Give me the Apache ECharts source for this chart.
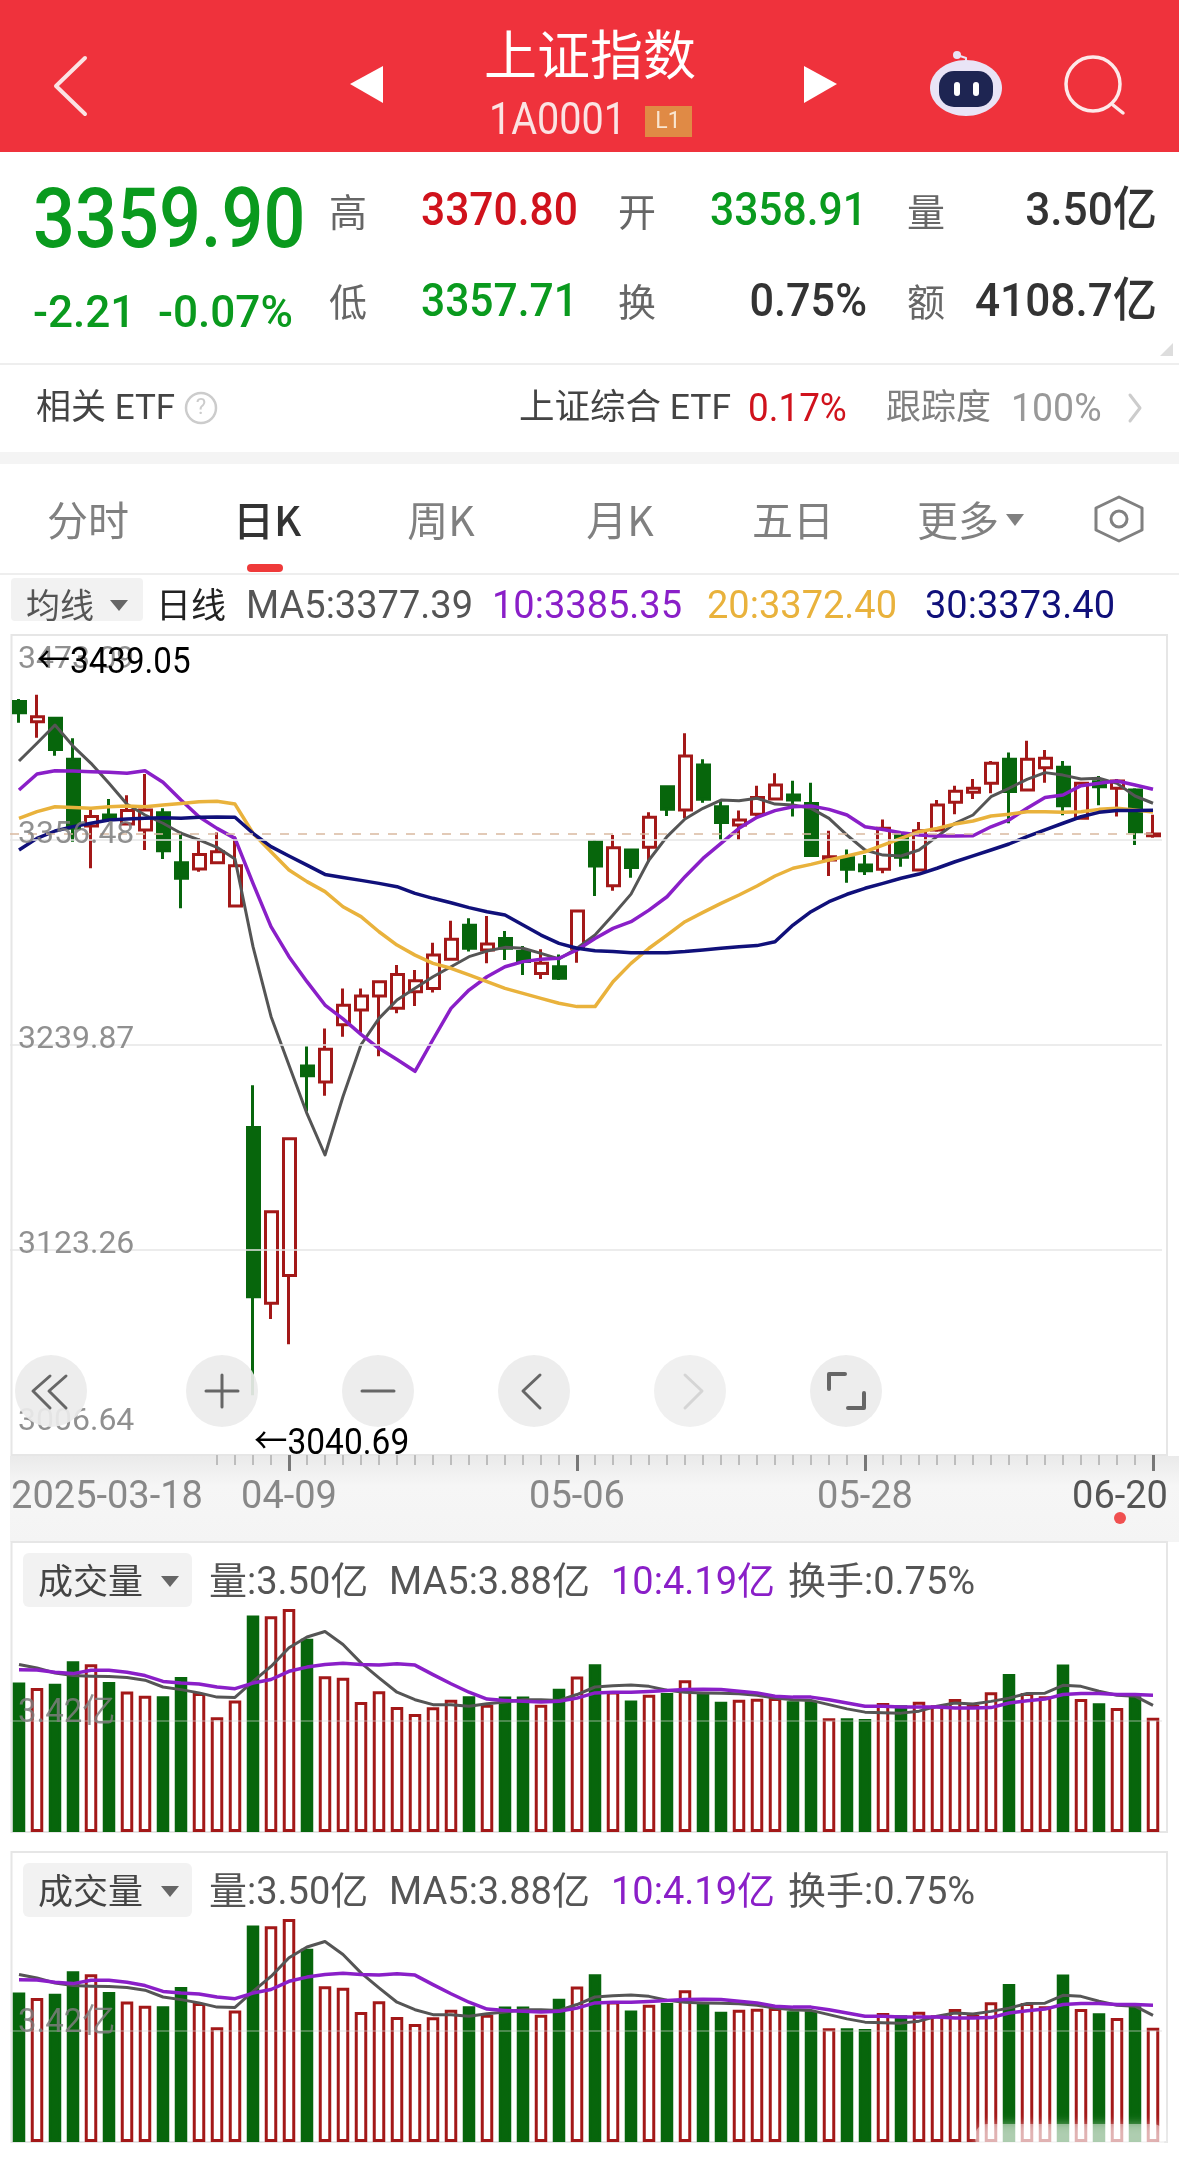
<!DOCTYPE html>
<html>
<head>
<meta charset="utf-8">
<title>上证指数</title>
<script src="https://cdn.jsdelivr.net/npm/echarts@6/dist/echarts.min.js"></script>
<style>html,body{margin:0;padding:0;background:#fff}#main{width:1179px;height:2168px}</style>
</head>
<body>
<div id="main"></div>
<script>
var dates = ['2025-03-18','2025-03-19','2025-03-20','2025-03-21','2025-03-24','2025-03-25','2025-03-26','2025-03-27','2025-03-28','2025-03-31',
  '2025-04-01','2025-04-02','2025-04-03','2025-04-07','2025-04-08','2025-04-09','2025-04-10','2025-04-11','2025-04-14','2025-04-15',
  '2025-04-16','2025-04-17','2025-04-18','2025-04-21','2025-04-22','2025-04-23','2025-04-24','2025-04-25','2025-04-28','2025-04-29',
  '2025-04-30','2025-05-06','2025-05-07','2025-05-08','2025-05-09','2025-05-12','2025-05-13','2025-05-14','2025-05-15','2025-05-16',
  '2025-05-19','2025-05-20','2025-05-21','2025-05-22','2025-05-23','2025-05-26','2025-05-27','2025-05-28','2025-05-29','2025-05-30',
  '2025-06-03','2025-06-04','2025-06-05','2025-06-06','2025-06-09','2025-06-10','2025-06-11','2025-06-12','2025-06-13','2025-06-16',
  '2025-06-17','2025-06-18','2025-06-19','2025-06-20'];

var opens = [3435.2,3423.8,3425.7,3402.4,3364.4,3370.7,3365.6,3362.2,3372,3343.6,
  3340,3343.6,3318.9,3193,3093,3108.8,3227.9,3218.8,3251.4,3259.8,
  3267.7,3260.7,3270.2,3272,3288.6,3308,3293.9,3300.5,3293,3280.6,
  3284.4,3294.9,3355.5,3330.5,3350.8,3352.3,3386.8,3373.5,3399.1,3375.4,
  3365,3371.1,3379.8,3382.1,3377.3,3345.1,3346.4,3342.2,3339.8,3359.3,
  3339.4,3362.2,3377.9,3383.6,3388.7,3402.4,3384.9,3397.6,3397.8,3368.8,
  3389.6,3385.9,3384.9,3358.91];
var closes = [3428.9,3426.6,3408,3363.1,3369.8,3368.4,3373.2,3373.5,3350.4,3334.7,
  3348.3,3349.8,3341.9,3096.6,3145,3186.5,3222.4,3237.5,3262.5,3267.7,
  3275.9,3280,3276.4,3291,3300,3294.9,3297.3,3294.9,3287.3,3286.3,
  3277.8,3316.1,3341.7,3352.1,3340.9,3369.4,3373.9,3404.3,3379.6,3366.5,
  3367.9,3380.6,3387.8,3379.2,3347.6,3347,3339.8,3339,3363.1,3346.6,
  3361.8,3376.4,3384.2,3385.9,3400.1,3384,3402.4,3403,3376,3388.7,
  3386.8,3390,3361.2,3359.9];
var lows = [3423.2,3414.7,3404.4,3355.5,3340.4,3367.8,3365,3350.8,3345.7,3317.6,
  3338.4,3342.8,3318.5,3040.69,3084,3069.6,3202,3211,3244.5,3246.9,
  3233.5,3257.9,3262,3269.8,3288,3293,3286.3,3288.2,3279.7,3277.4,
  3276.9,3286.7,3324.6,3327.6,3335,3344.1,3370.1,3368.8,3377.7,3356.5,
  3356.5,3369.8,3379.6,3369.8,3347.4,3336,3332.2,3336.6,3337.5,3341.3,
  3339.2,3361.2,3371.1,3379.8,3383,3366,3384.5,3389.1,3370.5,3368.4,
  3376.2,3369.8,3353.6,3357.71];
var highs = [3436.7,3439.05,3426.6,3414.3,3373.5,3379.8,3382,3394,3374.5,3361.2,
  3357.4,3360.8,3358.4,3217,3145.5,3186.8,3239,3249.2,3272,3272,
  3276,3285.4,3282.5,3298,3310.6,3311.9,3313.2,3304.7,3296.2,3294.3,
  3291.4,3316.3,3356.5,3359.3,3351,3372.2,3387,3417.2,3402.4,3379.2,
  3373.2,3387.4,3394.4,3390.2,3389,3361.8,3351.1,3348,3368.2,3359.5,
  3366.7,3379.2,3387.4,3391.2,3401.4,3406.2,3413,3407.7,3401.4,3389,
  3392.9,3391.2,3385.9,3370.8];

var ma5 = [3401.4,3411.5,3421.9,3409.9,3400.1,3388.7,3376.8,3370.7,3366,3360.3,
  3356.5,3352.3,3345.7,3295.8,3256.1,3228.3,3200.8,3177.3,3210.6,3240,
  3255,3265.5,3272.1,3278.7,3284.4,3290.1,3293.3,3295.4,3294.9,3292,
  3288.8,3294.9,3302.4,3313.8,3325.7,3345.1,3358.4,3368.4,3374.5,3379.2,
  3378.8,3380.2,3376.9,3376.4,3374.5,3368.8,3359.3,3350.8,3347.9,3347.4,
  3350.8,3358.4,3366,3370.7,3381.1,3385.9,3391,3394.8,3393.4,3391.2,
  3391.6,3388.7,3381.5,3377.39];
var ma10 = [3384.9,3394,3395.9,3395.7,3395.3,3395,3394.4,3395.9,3389.3,3379.2,
  3369.7,3363.1,3357.4,3331.8,3307.2,3290.1,3275.9,3262.6,3254.7,3245.9,
  3238,3231.6,3224.9,3243,3260.7,3271.1,3278.7,3284.4,3287.3,3288.6,
  3289.2,3293.9,3300.5,3306.2,3310,3316.6,3324.2,3335.6,3346,3354.6,
  3363.1,3369.4,3373.2,3375.4,3375.8,3373.9,3370.7,3364,3362.5,3360.6,
  3359.3,3358.8,3358.8,3358.9,3364,3367.9,3374.5,3380.6,3382.1,3387.4,
  3388.7,3390,3387.8,3385.35];
var ma20 = [3368.8,3372.6,3375.4,3374.9,3374.5,3375.4,3375.8,3375.4,3376.4,3377.3,
  3378.3,3378.5,3376.9,3360.3,3349.8,3339.4,3332.8,3327.1,3318.5,3312.9,
  3304.3,3296.7,3291,3286.3,3283.5,3279.7,3275.9,3272.1,3269.2,3266.4,
  3263.6,3261.7,3261.7,3275.9,3286.3,3294.9,3302.4,3310,3315.3,3320.4,
  3325.2,3330.3,3336,3340.4,3342.6,3345.1,3347.4,3349.8,3353.6,3357.4,
  3361.2,3363.1,3365.6,3367.3,3370.1,3371.1,3372.6,3372.6,3372.2,3372.6,
  3373.9,3374.5,3373.5,3372.4];
var ma30 = [3350.8,3357.4,3361.6,3364.1,3366,3367.8,3368.4,3368.8,3369.2,3368.8,
  3369.4,3369.6,3369.4,3360.3,3352.7,3347.4,3342.2,3336.9,3335.2,3333.5,
  3331.8,3329.9,3326.1,3323.3,3320.8,3318,3315.7,3313.8,3308.1,3302.4,
  3297.7,3294.9,3293.5,3293.1,3292.4,3292.4,3292.4,3293,3293.9,3294.9,
  3295.8,3296.4,3298.6,3308.1,3315.7,3321.4,3325.6,3329,3331.8,3334.7,
  3337.1,3340.4,3344.1,3347.4,3350.8,3354.2,3358.4,3362.2,3366,3369.7,
  3372.2,3373.2,3373.2,3373.4];

var volumes = [4.58,4.41,4.54,5.23,5.14,4.59,4.30,4.17,4.16,4.75,
  4.26,3.51,4.03,6.63,6.61,6.83,5.92,4.77,4.72,3.98,
  4.31,3.83,3.61,3.82,4.05,4.16,3.90,4.15,4.15,3.90,
  4.39,4.76,5.14,4.30,4.03,4.20,4.26,4.65,4.26,3.99,
  4.05,4.08,4.10,4.00,4.00,3.48,3.48,3.46,3.95,3.88,
  3.99,3.88,4.07,3.90,4.28,4.84,4.26,4.16,5.13,4.07,
  3.94,3.80,4.16,3.50];
var volMa5 = [5.13,5.02,4.87,4.79,4.77,4.76,4.73,4.65,4.44,4.36,
  4.26,4.13,4.12,4.61,5.07,5.64,5.97,6.14,5.74,5.18,
  4.72,4.28,4.05,3.90,3.90,3.85,3.93,3.98,4.05,4.05,
  4.03,4.21,4.44,4.48,4.50,4.46,4.34,4.28,4.26,4.25,
  4.23,4.19,4.10,4.05,4.03,3.90,3.77,3.67,3.65,3.64,
  3.70,3.85,3.95,3.92,4.00,4.10,4.24,4.25,4.49,4.46,
  4.31,4.19,4.16,3.88];
var volMa10 = [4.97,4.96,4.89,4.85,4.95,4.95,4.89,4.79,4.61,4.56,
  4.53,4.44,4.39,4.56,4.67,4.92,5.05,5.13,5.17,5.13,
  5.11,5.15,5.11,4.82,4.54,4.28,4.07,4.03,4.00,3.98,
  4.00,4.10,4.26,4.28,4.28,4.30,4.33,4.36,4.37,4.36,
  4.31,4.26,4.16,4.13,4.13,4.05,3.95,3.85,3.85,3.83,
  3.83,3.83,3.80,3.80,3.81,3.95,4.02,4.07,4.21,4.24,
  4.24,4.21,4.21,4.19];

var priceTicks = [3006.64,3123.26,3239.87,3356.48,3473.09];
var volTicks = [3.42];
var xTickIndex = [0,15,31,47,63];
var xTickLabels = ['2025-03-18','04-09','05-06','05-28','06-20'];
var lastClose = 3359.90;

var FONT = 'Roboto, "Noto Sans CJK SC", sans-serif';
var CJK = '"Noto Sans CJK SC", sans-serif';
var RED = '#A31818', GREEN = '#07660C';
var UP = '#D0121C', DOWN = '#0A9A1E', TXT = '#333', GRAY = '#666', GRAY2 = '#808080';
var C5 = '#555555', C10 = '#8A1FC8', C20 = '#E9B23C', C30 = '#10107A';

var candleData = dates.map(function (d, i) { return [opens[i], closes[i], lows[i], highs[i]]; });
var volData = volumes.map(function (v, i) {
  var up = closes[i] >= opens[i];
  return { value: v, itemStyle: { color: up ? '#fff' : GREEN, borderColor: up ? RED : GREEN } };
});

// sx: 横向压缩，原图数字是窄体
function t(x, y, text, size, color, align, weight, font, sx) {
  return { type: 'text', z: 50, silent: true, x: x, y: y, scaleX: sx || 1, style: {
    x: 0, y: 0, text: text, fontSize: size, fill: color, align: align || 'left', verticalAlign: 'middle',
    fontWeight: weight || 'normal', fontFamily: font || FONT } };
}
function box(x, y, w, h, fill, r, z) {
  return { type: 'rect', z: z === undefined ? 40 : z, silent: true, shape: { x: x, y: y, width: w, height: h, r: r || 0 }, style: { fill: fill } };
}
function frame(x, y, w, h) {
  return { type: 'rect', z: -1, silent: true, shape: { x: x, y: y, width: w, height: h }, style: { fill: 'transparent', stroke: '#e6e6e6', lineWidth: 2 } };
}
function poly(points, color, width, z) {
  return { type: 'polyline', z: z || 50, silent: true, shape: { points: points }, style: { stroke: color, lineWidth: width, fill: null, lineCap: 'round', lineJoin: 'round' } };
}
function tri(points, color) {
  return { type: 'polygon', z: 50, silent: true, shape: { points: points }, style: { fill: color } };
}
function dot(cx, cy, r, fill, stroke, lw, z, op) {
  return { type: 'circle', z: z || 50, silent: true, shape: { cx: cx, cy: cy, r: r }, style: { fill: fill, stroke: stroke || null, lineWidth: lw || 0, opacity: op === undefined ? 1 : op } };
}

var ui = [
  // 顶部红色标题栏
  box(0, 0, 1179, 152, '#EF323C', 0, 30),
  t(590, 55, '上证指数', 53, '#fff', 'center', 'normal', CJK),
  t(489, 123, '1A0001', 44, '#FBE3E3', 'left', 'normal', FONT, 0.9),
  box(645, 106, 47, 31, '#E08A45', 0, 45),
  t(668, 122, 'L1', 23, '#F9E5D0', 'center'),
  poly([[85, 58], [56, 86], [85, 114]], '#FBE3E3', 4),
  tri([[350, 84], [383, 66], [383, 103]], '#fff'),
  tri([[837, 84], [804, 66], [804, 103]], '#fff'),
  { type: 'ellipse', z: 45, silent: true, shape: { cx: 966, cy: 88, rx: 36, ry: 28 }, style: { fill: '#E9E4F6' } },
  box(939, 71, 54, 36, '#1E2552', 15, 46),
  box(954, 82, 6, 14, '#fff', 3, 47),
  box(973, 82, 6, 14, '#fff', 3, 47),
  dot(957, 55, 4, '#E9E4F6'),
  poly([[957, 55], [966, 58], [966, 62]], '#E9E4F6', 2),
  dot(1093, 84, 27, 'transparent', '#FDE9E9', 3.5),
  poly([[1113, 105], [1123, 113]], '#FDE9E9', 3.5),

  // 行情数据
  t(33, 226, '3359.90', 83, DOWN, 'left', '500', FONT, 0.89),
  t(33, 316, '-2.21', 45, DOWN, 'left', '500', FONT, 0.98),
  t(158, 316, '-0.07%', 45, DOWN, 'left', '500', FONT, 0.98),
  t(329, 212, '高', 38, GRAY, 'left', 'normal', CJK),
  t(421, 213, '3370.80', 47, UP, 'left', '500', FONT, 0.905),
  t(618, 212, '开', 38, GRAY, 'left', 'normal', CJK),
  t(710, 213, '3358.91', 47, DOWN, 'left', '500', FONT, 0.905),
  t(907, 212, '量', 38, GRAY, 'left', 'normal', CJK),
  t(1157, 213, '3.50亿', 47, TXT, 'right', '500', FONT, 0.94),
  t(329, 302, '低', 38, GRAY, 'left', 'normal', CJK),
  t(421, 304, '3357.71', 47, DOWN, 'left', '500', FONT, 0.905),
  t(618, 302, '换', 38, GRAY, 'left', 'normal', CJK),
  t(867, 304, '0.75%', 47, TXT, 'right', '500', FONT, 0.92),
  t(907, 302, '额', 38, GRAY, 'left', 'normal', CJK),
  t(1157, 304, '4108.7亿', 47, TXT, 'right', '500', FONT, 0.94),
  tri([[1173, 343], [1173, 356], [1160, 356]], '#ddd'),
  box(0, 363, 1179, 2, '#eee', 0, 30),

  // ETF 行
  t(36, 410, '相关 ETF', 35, '#444'),
  dot(201, 408, 15, 'transparent', '#ccc', 2.5),
  t(201, 408, '?', 22, '#ccc', 'center'),
  t(519, 410, '上证综合 ETF', 35.5, '#444'),
  t(748, 411, '0.17%', 38, UP, 'left', 'normal', FONT, 0.97),
  t(886, 410, '跟踪度', 35, GRAY2),
  t(1011, 411, '100%', 39, '#999', 'left', 'normal', FONT, 0.96),
  poly([[1130, 395], [1140, 408], [1130, 421]], '#ccc', 3),
  box(0, 452, 1179, 12, '#f4f4f4', 0, 30),

  // 周期切换
  t(88, 520, '分时', 41, GRAY2, 'center', 'normal', CJK),
  t(267, 520, '日K', 41, '#333', 'center', '500', CJK),
  t(441, 520, '周K', 41, GRAY2, 'center', 'normal', CJK),
  t(620, 520, '月K', 41, GRAY2, 'center', 'normal', CJK),
  t(793, 520, '五日', 41, GRAY2, 'center', 'normal', CJK),
  t(917, 520, '更多', 41, GRAY2, 'left', 'normal', CJK),
  tri([[1006, 514], [1024, 514], [1015, 526]], GRAY2),
  { type: 'polygon', z: 50, silent: true, shape: { points: [[1119, 497], [1142, 508], [1142, 530], [1119, 541], [1096, 530], [1096, 508]] }, style: { fill: 'transparent', stroke: GRAY2, lineWidth: 3, lineJoin: 'round' } },
  dot(1119, 519, 8, 'transparent', GRAY2, 3),
  box(247, 564, 36, 8, '#EF3A3A', 4, 45),
  box(0, 573, 1179, 2, '#eee', 0, 30),

  // 均线行
  box(11, 578, 132, 43, '#f2f2f2', 4, 30),
  t(26, 605, '均线', 34, '#555', 'left', 'normal', CJK),
  tri([[110, 600], [128, 600], [119, 611]], '#666'),
  t(156, 605, '日线', 35, '#222', 'left', 'normal', CJK),
  t(246, 608, 'MA5:3377.39', 38, C5),
  t(492, 608, '10:3385.35', 38, C10),
  t(707, 608, '20:3372.40', 38, C20),
  t(925, 608, '30:3373.40', 38, C30),

  // K 线图框和标注
  frame(11.5, 635, 1155.5, 820),
  t(37, 664, '←3439.05', 36, '#000', 'left', 'normal', FONT, 0.92),
  t(254, 1445, '←3040.69', 36, '#000', 'left', 'normal', FONT, 0.93),
  { type: 'rect', z: -2, silent: true, shape: { x: 10, y: 1456, width: 1169, height: 86 }, style: { fill: { type: 'linear', x: 0, y: 0, x2: 0, y2: 1, colorStops: [{ offset: 0, color: '#eaeaea' }, { offset: 0.35, color: '#f6f6f6' }, { offset: 1, color: '#f4f4f4' }] } } },
  dot(1120, 1518, 6, '#F05050'),

  // 浮动按钮
  dot(51, 1391, 36, '#ececec', null, 0, 40, 0.92),
  dot(222, 1391, 36, '#ececec', null, 0, 40, 0.92),
  dot(378, 1391, 36, '#ececec', null, 0, 40, 0.92),
  dot(534, 1391, 36, '#ececec', null, 0, 40, 0.92),
  dot(690, 1391, 36, '#efefef', null, 0, 40, 0.92),
  dot(846, 1391, 36, '#ececec', null, 0, 40, 0.92),
  poly([[50, 1376], [33, 1391], [50, 1408]], '#666', 3),
  poly([[66, 1376], [49, 1391], [66, 1408]], '#666', 3),
  poly([[206, 1391], [238, 1391]], '#666', 3),
  poly([[222, 1375], [222, 1407]], '#666', 3),
  poly([[362, 1391], [394, 1391]], '#666', 3),
  poly([[540, 1375], [523, 1391], [540, 1408]], '#666', 3),
  poly([[685, 1375], [702, 1391], [685, 1408]], '#d5d5d5', 3),
  poly([[829, 1389], [829, 1374], [845, 1374]], '#666', 4),
  poly([[864, 1393], [864, 1408], [848, 1408]], '#666', 4)
];

function volHeader(off) {
  return [
    frame(11.5, 1542 + off, 1155.5, 290),
    box(23, 1553 + off, 169, 54, '#f2f2f2', 6, 30),
    t(38, 1581 + off, '成交量', 35, '#444', 'left', 'normal', CJK),
    tri([[161, 1576 + off], [179, 1576 + off], [170, 1587 + off]], '#666'),
    t(209, 1584 + off, '量:3.50亿', 38, '#555'),
    t(389, 1584 + off, 'MA5:3.88亿', 38, '#555'),
    t(611, 1584 + off, '10:4.19亿', 38, C10),
    t(788, 1584 + off, '换手:0.75%', 38, '#555')
  ];
}
ui = ui.concat(volHeader(0), volHeader(310));
// 右下角水印遮罩
ui.push({ type: 'rect', z: 20, silent: true, shape: { x: 975, y: 2124, width: 190, height: 26, r: 12 }, style: { fill: 'rgba(255,255,255,0.45)', shadowBlur: 10, shadowColor: 'rgba(255,255,255,0.9)' } });

function priceLabel(v) {
  if (v === priceTicks[0]) return '{low|' + v.toFixed(2) + '}';
  if (v === priceTicks[4]) return '{top|' + v.toFixed(2) + '}';
  return '{mid|' + v.toFixed(2) + '}';
}
var lab = { fontSize: 32, fontFamily: FONT, color: 'rgba(125,125,125,0.85)' };
function withPad(p) { return Object.assign({}, lab, { padding: p }); }

function line(name, data, color, width, xi, yi) {
  return { name: name, type: 'line', data: data, xAxisIndex: xi, yAxisIndex: yi, symbol: 'none', silent: true, z: 4,
    lineStyle: { color: color, width: width, join: 'round' }, itemStyle: { color: color } };
}

function volAxisX(grid) {
  return { type: 'category', gridIndex: grid, data: dates, boundaryGap: true, axisLine: { show: false }, axisTick: { show: false }, axisLabel: { show: false }, splitLine: { show: false } };
}
function volAxisY(grid) {
  return { type: 'value', gridIndex: grid, min: 0, max: 8.88, z: 6, axisLine: { show: false }, axisTick: { show: false }, splitLine: { show: false },
    axisLabel: { inside: true, margin: 8, customValues: volTicks, formatter: function (v) { return '{a|' + v.toFixed(2) + '亿}'; },
      rich: { a: Object.assign({}, lab, { fontSize: 33, fontFamily: FONT, padding: [0, 0, 13, 0] }) } } };
}
function volMark() {
  return { silent: true, symbol: 'none', label: { show: false }, animation: false,
    lineStyle: { color: 'rgba(210,210,210,0.45)', width: 1.5, type: 'solid' }, data: volTicks.map(function (v) { return { yAxis: v }; }) };
}
function volSeries(xi, yi) {
  return [
    { name: '成交量', type: 'bar', data: volData, xAxisIndex: xi, yAxisIndex: yi, barWidth: 12.5, silent: true, itemStyle: { borderWidth: 3 }, markLine: volMark() },
    line('MA5', volMa5, C5, 3, xi, yi),
    line('MA10', volMa10, C10, 3.5, xi, yi)
  ];
}

var option = {
  animation: false,
  backgroundColor: '#fff',
  grid: [
    { left: 10, width: 1152, top: 635, height: 820 },
    { left: 10, width: 1152, top: 1542, height: 290 },
    { left: 10, width: 1152, top: 1852, height: 290 }
  ],
  xAxis: [
    { type: 'category', gridIndex: 0, position: 'bottom', data: dates, boundaryGap: true, axisLine: { show: false }, splitLine: { show: false }, axisLabel: { show: false },
      axisTick: { show: true, alignWithLabel: true, length: 10, lineStyle: { color: '#bdbdbd', width: 2 }, interval: function (i) { return i >= 11; } } },
    { type: 'category', gridIndex: 0, position: 'bottom', data: dates, boundaryGap: true, axisLine: { show: false }, splitLine: { show: false },
      axisTick: { show: true, alignWithLabel: true, length: 16, lineStyle: { color: '#777', width: 3 }, interval: function (i) { return i > 0 && xTickIndex.indexOf(i) >= 0; } },
      axisLabel: { margin: 24, interval: function (i) { return xTickIndex.indexOf(i) >= 0; },
        formatter: function (v, i) {
          var k = xTickIndex.indexOf(i), s = xTickLabels[k];
          if (k === 0) return '{first|' + s + '}';
          if (k === xTickLabels.length - 1) return '{last|' + s + '}';
          return '{mid|' + s + '}';
        },
        rich: {
          first: { fontSize: 38, fontFamily: FONT, color: '#888', padding: [0, 0, 0, 176] },
          mid: { fontSize: 38, fontFamily: FONT, color: '#888' },
          last: { fontSize: 38, fontFamily: FONT, color: '#555', padding: [0, 66, 0, 0] }
        } } },
    volAxisX(1),
    volAxisX(2)
  ],
  yAxis: [
    { type: 'value', gridIndex: 0, min: priceTicks[0], max: priceTicks[4], z: 6, axisLine: { show: false }, axisTick: { show: false }, splitLine: { show: false },
      axisLabel: { inside: true, margin: 8, customValues: priceTicks, formatter: priceLabel,
        rich: { low: withPad([0, 0, 66, 0]), top: withPad([50, 0, 0, 0]), mid: withPad([0, 0, 10, 0]) } } },
    volAxisY(1),
    volAxisY(2)
  ],
  series: [
    { name: '日K', type: 'candlestick', data: candleData, xAxisIndex: 0, yAxisIndex: 0, barWidth: 12.5, silent: true, z: 3,
      itemStyle: { color: '#fff', color0: GREEN, borderColor: RED, borderColor0: GREEN, borderWidth: 3 },
      markLine: { silent: true, symbol: 'none', label: { show: false }, animation: false,
        data: priceTicks.slice(1, 4).map(function (v) { return { yAxis: v, lineStyle: { color: '#e6e6e6', width: 1.5, type: 'solid' } }; })
          .concat([{ yAxis: lastClose, lineStyle: { color: '#D9B9A0', width: 1.5, type: [9, 9] } }]) } },
    line('MA5', ma5, C5, 3, 0, 0),
    line('MA10', ma10, C10, 3.5, 0, 0),
    line('MA20', ma20, C20, 3.5, 0, 0),
    line('MA30', ma30, C30, 3.5, 0, 0)
  ].concat(volSeries(2, 1), volSeries(3, 2)),
  graphic: { elements: ui }
};

var myChart = echarts.init(document.getElementById('main'), null, { renderer: 'canvas', width: 1179, height: 2168 });
myChart.setOption(option);
</script>
</body>
</html>
